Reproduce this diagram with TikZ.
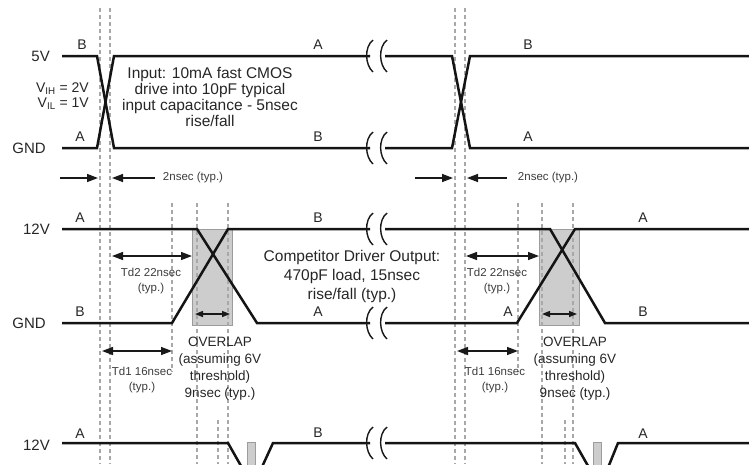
\documentclass[tikz,border=0pt]{standalone}
\usepackage{fontspec}
\setmainfont{Liberation Sans}
\usetikzlibrary{arrows.meta}
\definecolor{txt}{HTML}{262626}
\definecolor{txtl}{HTML}{3C3C3C}
\definecolor{guidec}{HTML}{A8A8A8}
\definecolor{shade}{HTML}{CDCDCD}
\definecolor{shadeedge}{HTML}{9C9C9C}
\tikzset{
  brkpic/.pic={\draw[brk] (3,-16) .. controls (-6,-9) and (-5,9) .. (3,16);}
}
\begin{document}
\begin{tikzpicture}[x=1pt,y=-1pt,
  wave/.style={line width=2.5pt, color=black!92, line join=miter},
  guide/.style={line width=1.1pt, color=guidec, dash pattern=on 4pt off 3pt},
  vl/.style={text=txt, font=\fontsize{15}{15}\selectfont, inner sep=0pt},
  ab/.style={text=txt, font=\fontsize{14}{14}\selectfont, inner sep=0pt},
  big/.style={text=txt, font=\fontsize{15.5}{15.7}\selectfont, align=center, inner sep=0pt},
  bigc/.style={text=txt, font=\fontsize{15.5}{19}\selectfont, align=center, inner sep=0pt},
  small/.style={text=txtl, font=\fontsize{11.5}{14.5}\selectfont, align=center, inner sep=0pt},
  mid/.style={text=txt, font=\fontsize{13.5}{17}\selectfont, align=center, inner sep=0pt},
  dimr/.style={line width=1.4pt, color=black!90, -{Triangle[length=11pt,width=8pt]}},
  dimb/.style={line width=1.4pt, color=black!90, {Triangle[length=11pt,width=8pt]}-{Triangle[length=11pt,width=8pt]}},
  dimo/.style={line width=1.4pt, color=black!90, {Triangle[length=8pt,width=6pt]}-{Triangle[length=8pt,width=6pt]}},
  brk/.style={line width=1.4pt, color=black!90},
  ovl/.style={fill=shade, draw=shadeedge, line width=1pt}
]
\useasboundingbox (0,0) rectangle (749,464);
\clip (0,0) rectangle (749,464);

% shaded overlap windows
\path[ovl] (192,229) rectangle (232,325);
\path[ovl] (539,229) rectangle (579,325);
\path[ovl] (247,442) rectangle (255,470);
\path[ovl] (593,442) rectangle (601,470);

% dashed guide lines
\foreach \x in {100,110,455,465} \draw[guide] (\x,8) -- (\x,464);
\foreach \x in {172,518} \draw[guide] (\x,203) -- (\x,372);
\foreach \x in {197,228,542,573} \draw[guide] (\x,203) -- (\x,464);
\foreach \x in {218,565} \draw[guide] (\x,420) -- (\x,464);

% waveform 1 (input)
\draw[wave] (62,56) -- (97,56) -- (114,148) -- (370,148);
\draw[wave] (62,148) -- (97,148) -- (114,56) -- (370,56);
\draw[wave] (385,56) -- (452,56) -- (470,148) -- (749,148);
\draw[wave] (385,148) -- (452,148) -- (470,56) -- (749,56);

% waveform 2 (competitor)
\draw[wave] (62,229) -- (197,229) -- (257,323) -- (370,323);
\draw[wave] (62,323) -- (172,323) -- (228,229) -- (370,229);
\draw[wave] (385,323) -- (517,323) -- (575,229) -- (749,229);
\draw[wave] (385,229) -- (550,229) -- (605,323) -- (749,323);

% waveform 3
\draw[wave] (62,443) -- (228,443) -- (249,480) -- (256,480) -- (273,443) -- (370,443);
\draw[wave] (385,443) -- (575,443) -- (596,480) -- (603,480) -- (618,443) -- (749,443);

% break marks
\foreach \y in {56,148,229,323,443} {
  \pic at (370,\y) {brkpic};
  \pic at (384,\y) {brkpic};
}

% level labels
\node[vl, anchor=east] (v5) at (50,56) {5V};
\node[vl, anchor=east] (g1) at (46,148) {GND};
\node[vl, anchor=east] (v12a) at (50,229) {12V};
\node[vl, anchor=east] (g2) at (46,323) {GND};
\node[vl, anchor=east] (v12b) at (50,445) {12V};
\node[ab, anchor=east] (vih) at (89,89) {V\textsubscript{IH} = 2V};
\node[ab, anchor=east] (vil) at (89,104) {V\textsubscript{IL} = 1V};

% state letters
\node[ab] (l1a) at (82,45) {B};
\node[ab] (l1b) at (80,137) {A};
\node[ab] (l1c) at (318,45) {A};
\node[ab] (l1d) at (318,137) {B};
\node[ab] (l1e) at (528,45) {B};
\node[ab] (l1f) at (528,137) {A};
\node[ab] (l2a) at (80,218) {A};
\node[ab] (l2b) at (80,312) {B};
\node[ab] (l2c) at (318,218) {B};
\node[ab] (l2d) at (318,312) {A};
\node[ab] (l2e) at (643,218) {A};
\node[ab] (l2f) at (508,312) {A};
\node[ab] (l2g) at (643,312) {B};
\node[ab] (l3a) at (80,434) {A};
\node[ab] (l3b) at (318,433) {B};
\node[ab] (l3c) at (643,434) {A};

% descriptions
\node[big] (inp) at (210,97) {Input: 10mA fast CMOS\\drive into 10pF typical\\input capacitance - 5nsec\\rise/fall};
\node[bigc] (comp) at (352,276) {Competitor Driver Output:\\470pF load, 15nsec\\rise/fall (typ.)};

% 2nsec arrows
\coordinate (a1s) at (60,178);  \coordinate (a1e) at (98,178);
\coordinate (a2s) at (155,178); \coordinate (a2e) at (112,178);
\coordinate (a3s) at (415,178); \coordinate (a3e) at (453,178);
\coordinate (a4s) at (507,178); \coordinate (a4e) at (467,178);
\draw[dimr] (a1s) -- (a1e);
\draw[dimr] (a2s) -- (a2e);
\draw[dimr] (a3s) -- (a3e);
\draw[dimr] (a4s) -- (a4e);
\node[small] (t2a) at (193,178) {2nsec (typ.)};
\node[small] (t2b) at (548,178) {2nsec (typ.)};

% Td2 arrows
\coordinate (d2a) at (112,256); \coordinate (d2b) at (192,256);
\coordinate (d2c) at (466,256); \coordinate (d2d) at (539,256);
\draw[dimb] (d2a) -- (d2b);
\draw[dimb] (d2c) -- (d2d);
\node[small] (td2a) at (151,281) {Td2 22nsec\\(typ.)};
\node[small] (td2b) at (497,281) {Td2 22nsec\\(typ.)};

% Td1 arrows
\coordinate (d1a) at (102,351); \coordinate (d1b) at (172,351);
\coordinate (d1c) at (457,351); \coordinate (d1d) at (518,351);
\draw[dimb] (d1a) -- (d1b);
\draw[dimb] (d1c) -- (d1d);
\node[small] (td1a) at (142,380) {Td1 16nsec\\(typ.)};
\node[small] (td1b) at (495,380) {Td1 16nsec\\(typ.)};

% overlap arrows and texts
\coordinate (o1a) at (195,314); \coordinate (o1b) at (230,314);
\coordinate (o2a) at (542,314); \coordinate (o2b) at (577,314);
\draw[dimo] (o1a) -- (o1b);
\draw[dimo] (o2a) -- (o2b);
\node[mid] (ov1) at (220,369) {OVERLAP\\(assuming 6V\\threshold)\\9nsec (typ.)};
\node[mid] (ov2) at (575,369) {OVERLAP\\(assuming 6V\\threshold)\\9nsec (typ.)};
\end{tikzpicture}
\end{document}
